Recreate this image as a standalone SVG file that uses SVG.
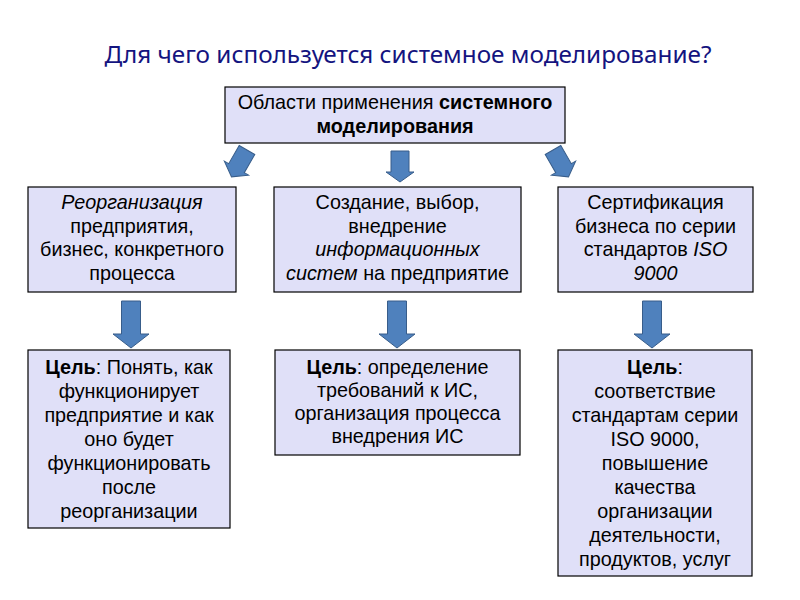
<svg xmlns="http://www.w3.org/2000/svg" width="800" height="600" viewBox="0 0 800 600">
<defs>
<style>
.box{fill:#E0E0F8;stroke:#000;stroke-width:1.2}
.t{font-family:"Liberation Sans",Arial,sans-serif;font-size:19.8px;fill:#000;text-anchor:middle}
.b{font-weight:bold}
.i{font-style:italic}
.arr{fill:#4F81BD;stroke:#385D8A;stroke-width:1}
.title{font-family:"Noto Sans","Open Sans",sans-serif;font-size:24.3px;fill:#14147F;text-anchor:middle}
</style>
<path id="a1" d="M-9,0 H9 V21 H14 L0,31 L-14,21 H-9 Z"/>
<path id="a2" d="M-9.5,0 H9.5 V33 H18 L0,47 L-18,33 H-9.5 Z"/>
</defs>
<rect width="800" height="600" fill="#fff"/>
<text class="title" x="408" y="63">Для чего используется системное моделирование?</text>

<g id="connectors">
<use href="#a1" class="arr" transform="translate(247,150) rotate(30)"/>
<use href="#a1" class="arr" transform="translate(400,151)"/>
<use href="#a1" class="arr" transform="translate(553,150) rotate(-30)"/>
<use href="#a2" class="arr" transform="translate(131,301)"/>
<use href="#a2" class="arr" transform="translate(397,301)"/>
<use href="#a2" class="arr" transform="translate(652,301)"/>
</g>

<g id="root">
<rect class="box" x="225" y="87" width="340" height="56"/>
<text class="t" x="395" y="109">Области применения <tspan class="b">системного</tspan></text>
<text class="t b" x="395" y="133">моделирования</text>
</g>

<g id="reorg">
<rect class="box" x="28" y="187" width="208" height="105"/>
<text class="t" x="132" y="209"><tspan class="i">Реорганизация</tspan></text>
<text class="t" x="132" y="233">предприятия,</text>
<text class="t" x="132" y="256">бизнес,  конкретного</text>
<text class="t" x="132" y="280">процесса</text>
</g>

<g id="is">
<rect class="box" x="274" y="187" width="247" height="105"/>
<text class="t" x="397.5" y="209">Создание, выбор,</text>
<text class="t" x="397.5" y="233">внедрение</text>
<text class="t i" x="397.5" y="256">информационных</text>
<text class="t" x="397.5" y="280"><tspan class="i">систем</tspan> на предприятие</text>
</g>

<g id="cert">
<rect class="box" x="558" y="187" width="195" height="105"/>
<text class="t" x="655.5" y="209">Сертификация</text>
<text class="t" x="655.5" y="233">бизнеса  по серии</text>
<text class="t" x="655.5" y="256">стандартов <tspan class="i">ISO</tspan></text>
<text class="t i" x="655.5" y="280">9000</text>
</g>

<g id="goal1">
<rect class="box" x="28" y="350" width="202" height="178"/>
<text class="t" x="129" y="374"><tspan class="b">Цель</tspan>: Понять, как</text>
<text class="t" x="129" y="398">функционирует</text>
<text class="t" x="129" y="422">предприятие  и как</text>
<text class="t" x="129" y="446">оно будет</text>
<text class="t" x="129" y="470">функционировать</text>
<text class="t" x="129" y="494">после</text>
<text class="t" x="129" y="518">реорганизации</text>
</g>

<g id="goal2">
<rect class="box" x="275" y="350" width="245" height="105"/>
<text class="t" x="397.5" y="374"><tspan class="b">Цель</tspan>: определение</text>
<text class="t" x="397.5" y="397">требований  к ИС,</text>
<text class="t" x="397.5" y="420">организация  процесса</text>
<text class="t" x="397.5" y="443">внедрения  ИС</text>
</g>

<g id="goal3">
<rect class="box" x="558" y="350" width="194" height="226"/>
<text class="t" x="655" y="374"><tspan class="b">Цель</tspan>:</text>
<text class="t" x="655" y="398">соответствие</text>
<text class="t" x="655" y="422">стандартам  серии</text>
<text class="t" x="655" y="446">ISO 9000,</text>
<text class="t" x="655" y="470">повышение</text>
<text class="t" x="655" y="494">качества</text>
<text class="t" x="655" y="518">организации</text>
<text class="t" x="655" y="542">деятельности,</text>
<text class="t" x="655" y="566">продуктов, услуг</text>
</g>
</svg>
